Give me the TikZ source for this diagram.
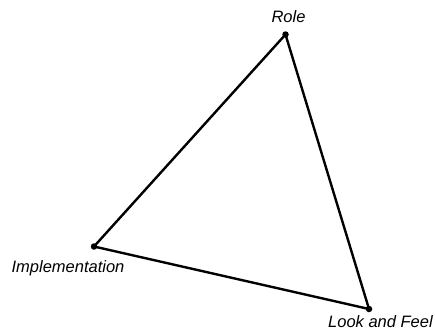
\documentclass[tikz,border=0pt]{standalone}
\usepackage{fontspec}
\setmainfont{Liberation Sans}
\tikzset{
    vertex/.style = {circle, fill = black, inner sep = 0pt, minimum size = 6.5pt},
    tag/.style = {inner sep = 0pt, font = \fontsize{16.5}{19}\selectfont\itshape},
    edge/.style = {line width = 2.4pt, line join = round}
}
\begin{document}
\begin{tikzpicture}[x = 1pt, y = -1pt]
    \useasboundingbox (0,0) rectangle (435,332);
    \node[vertex] (role) at (285.5,34.5) {};
    \node[vertex] (impl) at (94,246.5) {};
    \node[vertex] (look) at (369,309) {};
    \draw[edge] (role.center) -- (impl.center) -- (look.center) -- cycle;
    \node[tag] (roletext) at (288.5,17) {Role};
    \node[tag] (impltext) at (68,268) {Implementation};
    \node[tag, anchor = west] (looktext) at (328,322) {Look and Feel};
\end{tikzpicture}
\end{document}
